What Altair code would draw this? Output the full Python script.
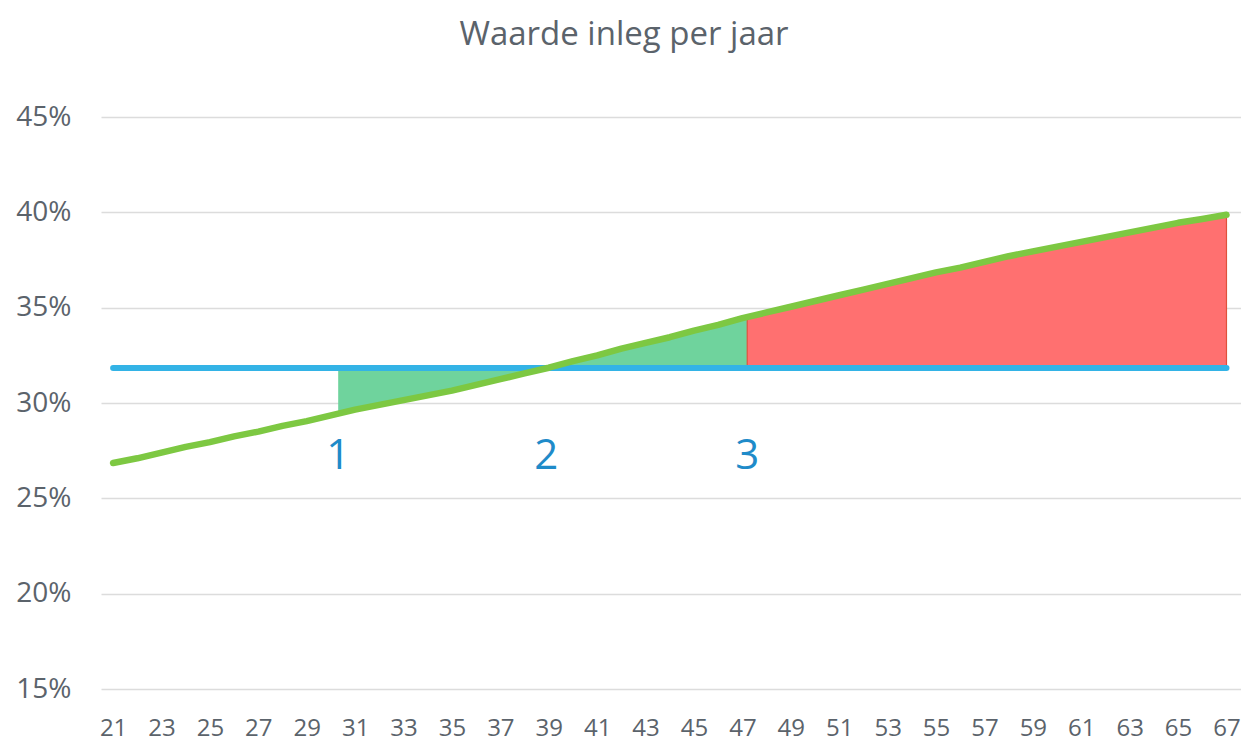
import altair as alt
import pandas as pd
import numpy as np

# ---- data ----
years = list(range(21, 68))
values = [26.85, 27.10, 27.40, 27.70, 27.95, 28.25, 28.50, 28.80, 29.05, 29.35,
          29.65, 29.90, 30.15, 30.40, 30.65, 30.95, 31.25, 31.55, 31.85, 32.20,
          32.50, 32.85, 33.15, 33.45, 33.80, 34.10, 34.45, 34.75, 35.05, 35.35,
          35.65, 35.95, 36.25, 36.55, 36.85, 37.10, 37.40, 37.70, 37.95, 38.20,
          38.45, 38.70, 38.95, 39.20, 39.45, 39.65, 39.87]
flat_level = 31.84
marker_x = [30.3, 38.9, 47.2]
marker_labels = ["1", "2", "3"]
marker_y = 27.2
x_ticks = list(range(21, 68, 2))
y_ticks = [15, 20, 25, 30, 35, 40, 45]

line_df = pd.DataFrame({"jaar": years, "waarde": values})
flat_df = pd.DataFrame({"jaar": [years[0], years[-1]], "waarde": [flat_level, flat_level]})


def segment(x0, x1):
    xs = [x0] + [y for y in years if x0 < y < x1] + [x1]
    ys = list(np.interp(xs, years, values))
    return pd.DataFrame({"jaar": xs, "waarde": ys, "vlak": [flat_level] * len(xs)})


green_df = segment(marker_x[0], marker_x[2])
red_df = segment(marker_x[2], years[-1])
label_df = pd.DataFrame({"jaar": marker_x, "waarde": [marker_y] * 3, "txt": marker_labels})

FONT = "Open Sans"
GREY = "#5b636b"

x_enc = alt.X("jaar:Q", scale=alt.Scale(domain=[20.5, 67.6], nice=False, zero=False),
              axis=alt.Axis(values=x_ticks, format="d", grid=False, ticks=False, domain=False,
                            labelFontSize=24, labelColor=GREY, labelFont=FONT,
                            labelPadding=27, title=None, labelFlush=False))
y_enc = alt.Y("waarde:Q", scale=alt.Scale(domain=[15, 45], nice=False, zero=False),
              axis=alt.Axis(values=y_ticks, labelExpr="datum.value + '%'", grid=True,
                            gridColor="#dcdcdc", gridWidth=1.5, ticks=False, domain=False,
                            labelFontSize=28, labelColor=GREY, labelFont=FONT,
                            labelPadding=30, title=None))

green_area = alt.Chart(green_df).mark_area(color="#6fd39d", opacity=1).encode(
    x=x_enc, y=y_enc, y2="vlak:Q")
red_area = alt.Chart(red_df).mark_area(color="#ff7070", stroke="#e0503c", strokeWidth=1.2,
                                       opacity=1).encode(x=x_enc, y=y_enc, y2="vlak:Q")
flat_line = alt.Chart(flat_df).mark_line(color="#33b3e6", strokeWidth=6, strokeCap="round").encode(
    x=x_enc, y=y_enc)
main_line = alt.Chart(line_df).mark_line(color="#7dc842", strokeWidth=6.5, strokeCap="round",
                                          strokeJoin="round").encode(x=x_enc, y=y_enc)
labels = alt.Chart(label_df).mark_text(fontSize=42, font=FONT, color="#1f8bc9",
                                       baseline="middle", align="center").encode(
    x=x_enc, y=y_enc, text="txt:N")

chart = alt.layer(green_area, red_area, flat_line, main_line, labels).properties(
    width=1140, height=572,
    background="white",
    title=alt.TitleParams("Waarde inleg per jaar", font=FONT, fontSize=33, fontWeight="normal",
                          color=GREY, anchor="middle", dx=-47, offset=51),
    autosize=alt.AutoSizeParams(type="none"),
    padding={"left": 93, "top": 109, "right": 0, "bottom": 55},
).configure_view(stroke=None)

chart.save("out.html", embed_options={"renderer": "svg", "actions": False})
